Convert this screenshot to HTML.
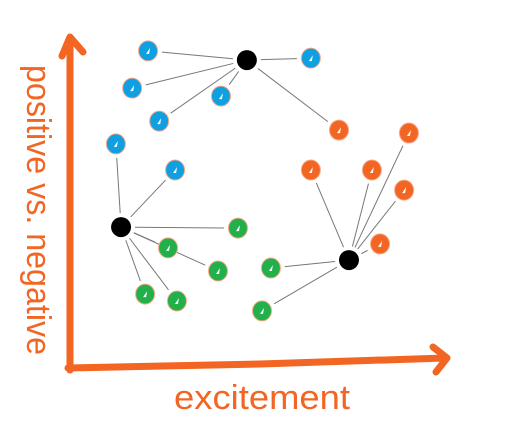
<!DOCTYPE html>
<html><head><meta charset="utf-8"><style>
html,body{margin:0;padding:0;background:#fff;}
svg{display:block;}
</style></head><body>
<svg id="chart" width="519" height="443" viewBox="0 0 519 443" xmlns="http://www.w3.org/2000/svg">
<g id="axes">
<path d="M70,370 L70,38 M62,56 L70,37 L83,52" stroke="#f26522" stroke-width="7" fill="none" stroke-linecap="round" stroke-linejoin="round"/>
<path d="M68,368 L260,364 L445,358 M433,347 L447,358 L436,372" stroke="#f26522" stroke-width="7" fill="none" stroke-linecap="round" stroke-linejoin="round"/>
<text x="262" y="409" text-anchor="middle" font-family="'Liberation Sans',sans-serif" font-size="34" fill="#f26522" textLength="176" lengthAdjust="spacingAndGlyphs">excitement</text>
<text transform="translate(27,210) rotate(90)" text-anchor="middle" font-family="'Liberation Sans',sans-serif" font-size="34" fill="#f26522" textLength="290" lengthAdjust="spacingAndGlyphs">positive vs. negative</text>
</g>
<g id="links"></g>
<g id="marks"></g>
</svg>
<script>
const hubX = [4.78, 1.38, 7.54];
const hubY = [9.33, 4.27, 3.27];
const blueX = [2.11, 1.68, 4.08, 2.41, 1.24, 2.84, 6.51];
const blueY = [9.61, 8.48, 8.24, 7.48, 6.79, 6.00, 9.39];
const blueHub = [0, 0, 0, 0, 1, 1, 0];
const orangeX = [7.27, 9.16, 6.51, 8.16, 9.03, 8.38];
const orangeY = [7.21, 7.12, 6.00, 6.00, 5.39, 3.76];
const orangeHub = [0, 2, 2, 2, 2, 2];
const greenX = [4.54, 2.65, 4.00, 2.03, 2.89, 5.43, 5.19];
const greenY = [4.24, 3.64, 2.94, 2.24, 2.03, 3.03, 1.73];
const greenHub = [1, 1, 1, 1, 1, 2, 2];

const sx = v => 70 + v * 37;
const sy = v => 368 - v * 33;
const NS = "http://www.w3.org/2000/svg";
const links = document.getElementById('links');
const marks = document.getElementById('marks');

function link(h, x, y) {
  const x1 = sx(hubX[h]), y1 = sy(hubY[h]), x2 = sx(x), y2 = sy(y);
  const d = Math.hypot(x2 - x1, y2 - y1);
  const ux = (x2 - x1) / d, uy = (y2 - y1) / d;
  const l = document.createElementNS(NS, 'line');
  
  
  l.setAttribute('x1', x1 + ux * 14); l.setAttribute('y1', y1 + uy * 14);
  l.setAttribute('x2', x2 - ux * 14); l.setAttribute('y2', y2 - uy * 14);
  l.setAttribute('stroke', '#777'); l.setAttribute('stroke-width', '1');
  links.appendChild(l);
}
function dot(x, y, color, name) {
  const cx = sx(x), cy = sy(y);
  const g = document.createElementNS(NS, 'g');
  
  
  const c = document.createElementNS(NS, 'ellipse');
  c.setAttribute('cx', cx); c.setAttribute('cy', cy);
  c.setAttribute('rx', 9.5); c.setAttribute('ry', 10);
  c.setAttribute('fill', color);
  c.setAttribute('stroke', '#f7a98a'); c.setAttribute('stroke-width', '1');
  g.appendChild(c);
  const p = document.createElementNS(NS, 'path');
  p.setAttribute('d', `M${cx-2},${cy+3} L${cx+2},${cy-3} L${cx+1},${cy+3} Z`);
  p.setAttribute('fill', '#fff');
  g.appendChild(p);
  marks.appendChild(g);
}
blueX.forEach((x, i) => link(blueHub[i], x, blueY[i]));
orangeX.forEach((x, i) => link(orangeHub[i], x, orangeY[i]));
greenX.forEach((x, i) => link(greenHub[i], x, greenY[i]));
blueX.forEach((x, i) => dot(x, blueY[i], '#0ea0e0', 'blue-point'));
orangeX.forEach((x, i) => dot(x, orangeY[i], '#f26522', 'orange-point'));
greenX.forEach((x, i) => dot(x, greenY[i], '#22b04b', 'green-point'));
hubX.forEach((x, i) => {
  const e = document.createElementNS(NS, 'ellipse');
  
  
  e.setAttribute('cx', sx(x)); e.setAttribute('cy', sy(hubY[i]));
  e.setAttribute('rx', 10); e.setAttribute('ry', 10);
  e.setAttribute('fill', '#000');
  marks.appendChild(e);
});
</script>
</body></html>
